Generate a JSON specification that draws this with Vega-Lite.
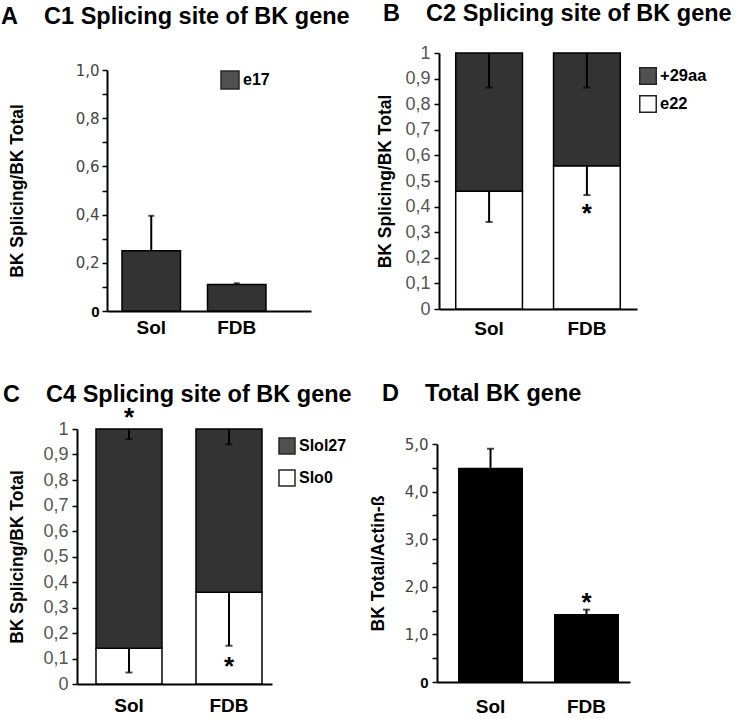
{
  "$schema": "https://vega.github.io/schema/vega-lite/v6.json",
  "padding": {"left": 1, "top": 1, "right": 0, "bottom": 0},
  "background": "white",
  "spacing": 44,
  "align": "none",
  "resolve": {"scale": {"color": "independent"}, "legend": {"color": "independent"}},
  "datasets": {
    "A_bars": [
      {"group": "Sol", "series": "e17", "lo": 0.25},
      {"group": "FDB", "series": "e17", "lo": 0.11}
    ],
    "A_err": [
      {"group": "Sol", "lo": 0.25, "hi": 0.395},
      {"group": "FDB", "lo": 0.11, "hi": 0.115}
    ],
    "A_cap": [
      {"group": "Sol", "lo": 0.395},
      {"group": "FDB", "lo": 0.115}
    ],
    "B_bars": [
      {"group": "Sol", "series": "e22", "lo": 0, "hi": 0.46},
      {"group": "Sol", "series": "+29aa", "lo": 0.46, "hi": 1},
      {"group": "FDB", "series": "e22", "lo": 0, "hi": 0.56},
      {"group": "FDB", "series": "+29aa", "lo": 0.56, "hi": 1}
    ],
    "B_err": [
      {"group": "Sol", "lo": 0.865, "hi": 1},
      {"group": "Sol", "lo": 0.34, "hi": 0.46},
      {"group": "FDB", "lo": 0.865, "hi": 1},
      {"group": "FDB", "lo": 0.445, "hi": 0.56}
    ],
    "B_star": [{"group": "FDB", "lo": 0.4, "label": "*"}],
    "C_bars": [
      {"group": "Sol", "series": "Slo0", "lo": 0, "hi": 0.14},
      {"group": "Sol", "series": "Slol27", "lo": 0.14, "hi": 1},
      {"group": "FDB", "series": "Slo0", "lo": 0, "hi": 0.36},
      {"group": "FDB", "series": "Slol27", "lo": 0.36, "hi": 1}
    ],
    "C_err": [
      {"group": "Sol", "lo": 0.96, "hi": 1},
      {"group": "Sol", "lo": 0.045, "hi": 0.14},
      {"group": "FDB", "lo": 0.94, "hi": 1},
      {"group": "FDB", "lo": 0.15, "hi": 0.36}
    ],
    "C_star": [
      {"group": "Sol", "lo": 1.07, "label": "*"},
      {"group": "FDB", "lo": 0.095, "label": "*"}
    ],
    "D_bars": [
      {"group": "Sol", "lo": 4.5},
      {"group": "FDB", "lo": 1.43}
    ],
    "D_err": [
      {"group": "Sol", "lo": 4.5, "hi": 4.9},
      {"group": "FDB", "lo": 1.43, "hi": 1.52}
    ],
    "D_cap": [
      {"group": "Sol", "lo": 4.9},
      {"group": "FDB", "lo": 1.52}
    ],
    "D_star": [{"group": "FDB", "lo": 1.8, "label": "*"}]
  },
  "vconcat": [
    {
      "spacing": 26,
      "align": "none",
      "resolve": {"scale": {"color": "independent"}, "legend": {"color": "independent"}},
      "hconcat": [
        {
          "width": 234,
          "height": 258,
          "title": {"text": "A\u00a0\u00a0\u00a0\u00a0C1 Splicing site of BK gene", "dx": -76, "offset": 24.5},
          "encoding": {
            "x": {"field": "group", "type": "nominal", "sort": ["Sol", "FDB"],
              "scale": {"range": [30, 234], "paddingInner": 0.316, "paddingOuter": 0.351, "align": 0.25},
              "axis": {"labelPadding": 7}},
            "y": {"field": "lo", "type": "quantitative", "scale": {"domain": [0, 1], "range": [258, 17]},
              "axis": {
                "offset": -30,
                "title": "BK Splicing/BK Total", "titlePadding": 49,
                "values": [0, 0.1, 0.2, 0.3, 0.4, 0.5, 0.6, 0.7, 0.8, 0.9, 1],
                "labelExpr": "datum.value == 0 ? '0' : (round(datum.value * 10) % 2 == 0 ? replace(format(datum.value, '.1f'), '.', ',') : '')",
                "labelFont": {"condition": {"test": "datum.value == 0", "value": "Liberation Sans"}, "value": "DejaVu Sans"},
                "labelFontWeight": {"condition": {"test": "datum.value == 0", "value": "bold"}, "value": "normal"},
                "labelColor": {"condition": {"test": "datum.value == 0", "value": "black"}, "value": "#444444"},
                "labelFontSize": 15, "labelPadding": 3, "labelOverlap": false
              }}
          },
          "layer": [
            {
              "data": {"name": "A_bars"},
              "mark": {"type": "bar", "stroke": "black", "strokeWidth": 1.5},
              "encoding": {
                "color": {"field": "series", "type": "nominal",
                  "scale": {"domain": ["e17"], "range": ["#333333"]},
                  "legend": {"orient": "none", "legendX": 143, "legendY": 17, "symbolSize": 324, "labelFontSize": 16}}
              }
            },
            {
              "data": {"name": "A_err"},
              "mark": {"type": "rule", "strokeWidth": 2, "color": "black"},
              "encoding": {"y2": {"field": "hi"}}
            },
            {
              "data": {"name": "A_cap"},
              "mark": {"type": "tick", "orient": "horizontal", "size": 6, "thickness": 2, "color": "black"},
              "encoding": {}
            }
          ]
        },
        {
          "width": 198,
          "height": 256,
          "title": {"text": "B\u00a0\u00a0\u00a0\u00a0C2 Splicing site of BK gene", "dx": -56, "offset": 19},
          "encoding": {
            "x": {"field": "group", "type": "nominal", "sort": ["Sol", "FDB"],
              "scale": {"paddingInner": 0.318, "paddingOuter": 0.171, "align": 0.5},
              "axis": {"labelPadding": 10}},
            "y": {"field": "lo", "type": "quantitative", "scale": {"domain": [0, 1]},
              "axis": {
                "title": "BK Splicing/BK Total", "titlePadding": 10,
                "values": [0, 0.1, 0.2, 0.3, 0.4, 0.5, 0.6, 0.7, 0.8, 0.9, 1],
                "labelExpr": "datum.value == 0 ? '0' : datum.value == 1 ? '1' : replace(format(datum.value, '.1f'), '.', ',')",
                "labelFont": "Liberation Sans", "labelFontSize": 18, "labelColor": "#555555", "labelPadding": 4, "labelOverlap": false
              }}
          },
          "layer": [
            {
              "data": {"name": "B_bars"},
              "mark": {"type": "bar", "stroke": "black", "strokeWidth": 1.5},
              "encoding": {
                "y2": {"field": "hi"},
                "color": {"field": "series", "type": "nominal",
                  "scale": {"domain": ["+29aa", "e22"], "range": ["#333333", "#ffffff"]},
                  "legend": {"orient": "none", "legendX": 200, "legendY": 14, "symbolSize": 272, "rowPadding": 4, "labelFontSize": 16.5}}
              }
            },
            {
              "data": {"name": "B_err"},
              "mark": {"type": "rule", "strokeWidth": 2, "color": "black"},
              "encoding": {"y2": {"field": "hi"}}
            },
            {
              "data": {"name": "B_err"},
              "mark": {"type": "tick", "orient": "horizontal", "size": 7, "thickness": 2, "color": "black"},
              "encoding": {}
            },
            {
              "data": {"name": "B_star"},
              "mark": {"type": "text", "fontSize": 26, "fontWeight": "bold", "font": "Liberation Sans", "baseline": "alphabetic", "dy": 15, "color": "black"},
              "encoding": {"text": {"field": "label"}}
            }
          ]
        }
      ]
    },
    {
      "spacing": 17,
      "align": "none",
      "resolve": {"scale": {"color": "independent"}, "legend": {"color": "independent"}},
      "hconcat": [
        {
          "width": 195,
          "height": 255,
          "title": {"text": "C\u00a0\u00a0\u00a0\u00a0C4 Splicing site of BK gene", "dx": -74, "offset": -1},
          "encoding": {
            "x": {"field": "group", "type": "nominal", "sort": ["Sol", "FDB"],
              "scale": {"paddingInner": 0.34, "paddingOuter": 0.145, "align": 0.655},
              "axis": {"labelPadding": 12}},
            "y": {"field": "lo", "type": "quantitative", "scale": {"domain": [0, 1]},
              "axis": {
                "title": "BK Splicing/BK Total", "titlePadding": 16,
                "values": [0, 0.1, 0.2, 0.3, 0.4, 0.5, 0.6, 0.7, 0.8, 0.9, 1],
                "labelExpr": "datum.value == 0 ? '0' : datum.value == 1 ? '1' : replace(format(datum.value, '.1f'), '.', ',')",
                "labelFont": "Liberation Sans", "labelFontSize": 18, "labelColor": "#555555", "labelPadding": 4, "labelOverlap": false
              }}
          },
          "layer": [
            {
              "data": {"name": "C_bars"},
              "mark": {"type": "bar", "stroke": "black", "strokeWidth": 1.5},
              "encoding": {
                "y2": {"field": "hi"},
                "color": {"field": "series", "type": "nominal",
                  "scale": {"domain": ["Slol27", "Slo0"], "range": ["#333333", "#ffffff"]},
                  "legend": {"orient": "none", "legendX": 201, "legendY": 8, "symbolSize": 256, "rowPadding": 10, "labelFontSize": 16}}
              }
            },
            {
              "data": {"name": "C_err"},
              "mark": {"type": "rule", "strokeWidth": 2, "color": "black"},
              "encoding": {"y2": {"field": "hi"}}
            },
            {
              "data": {"name": "C_err"},
              "mark": {"type": "tick", "orient": "horizontal", "size": 7, "thickness": 2, "color": "black"},
              "encoding": {}
            },
            {
              "data": {"name": "C_star"},
              "mark": {"type": "text", "fontSize": 26, "fontWeight": "bold", "font": "Liberation Sans", "baseline": "alphabetic", "dy": 15, "color": "black"},
              "encoding": {"text": {"field": "label"}}
            }
          ]
        },
        {
          "width": 193,
          "height": 253,
          "title": {"text": "D\u00a0\u00a0\u00a0\u00a0Total BK gene", "dx": -55, "offset": 23.5},
          "encoding": {
            "x": {"field": "group", "type": "nominal", "sort": ["Sol", "FDB"],
              "scale": {"paddingInner": 0.323, "paddingOuter": 0.167, "align": 0.656},
              "axis": {"labelPadding": 15}},
            "y": {"field": "lo", "type": "quantitative", "scale": {"domain": [0, 5], "range": [253, 15]},
              "axis": {
                "title": "BK Total/Actin-ß", "titlePadding": 16.5,
                "values": [0, 0.5, 1, 1.5, 2, 2.5, 3, 3.5, 4, 4.5, 5],
                "labelExpr": "datum.value == 0 ? '0' : (datum.value % 1 == 0 ? replace(format(datum.value, '.1f'), '.', ',') : '')",
                "labelFont": {"condition": {"test": "datum.value == 0", "value": "Liberation Sans"}, "value": "DejaVu Sans"},
                "labelFontWeight": {"condition": {"test": "datum.value == 0", "value": "bold"}, "value": "normal"},
                "labelColor": {"condition": {"test": "datum.value == 0", "value": "black"}, "value": "#444444"},
                "labelFontSize": 15, "labelPadding": 4, "labelOverlap": false
              }}
          },
          "layer": [
            {
              "data": {"name": "D_bars"},
              "mark": {"type": "bar", "color": "black"},
              "encoding": {}
            },
            {
              "data": {"name": "D_err"},
              "mark": {"type": "rule", "strokeWidth": 2, "color": "black"},
              "encoding": {"y2": {"field": "hi"}}
            },
            {
              "data": {"name": "D_cap"},
              "mark": {"type": "tick", "orient": "horizontal", "size": 7, "thickness": 2, "color": "black"},
              "encoding": {}
            },
            {
              "data": {"name": "D_star"},
              "mark": {"type": "text", "fontSize": 26, "fontWeight": "bold", "font": "Liberation Sans", "baseline": "alphabetic", "dy": 15, "color": "black"},
              "encoding": {"text": {"field": "label"}}
            }
          ]
        }
      ]
    }
  ],
  "config": {
    "font": "Liberation Sans",
    "view": {"stroke": null},
    "title": {"font": "Liberation Sans", "fontSize": 23.5, "fontWeight": "bold", "color": "black", "anchor": "start", "frame": "group", "baseline": "bottom"},
    "axis": {"grid": false, "domainColor": "black", "domainWidth": 2, "tickColor": "black", "tickWidth": 1.5, "tickSize": 5, "labelOverlap": false,
      "titleFont": "Liberation Sans", "titleFontSize": 17.5, "titleFontWeight": "bold", "titleColor": "black"},
    "axisX": {"title": null, "ticks": false, "labelAngle": 0, "labelFont": "Liberation Sans", "labelFontSize": 19, "labelFontWeight": "bold", "labelColor": "black"},
    "legend": {"title": null, "padding": 0, "symbolType": "square", "symbolStrokeColor": "black", "symbolStrokeWidth": 1.5, "symbolOpacity": 0.85,
      "labelFont": "Liberation Sans", "labelFontWeight": "bold", "labelColor": "black", "labelOffset": 3}
  }
}
